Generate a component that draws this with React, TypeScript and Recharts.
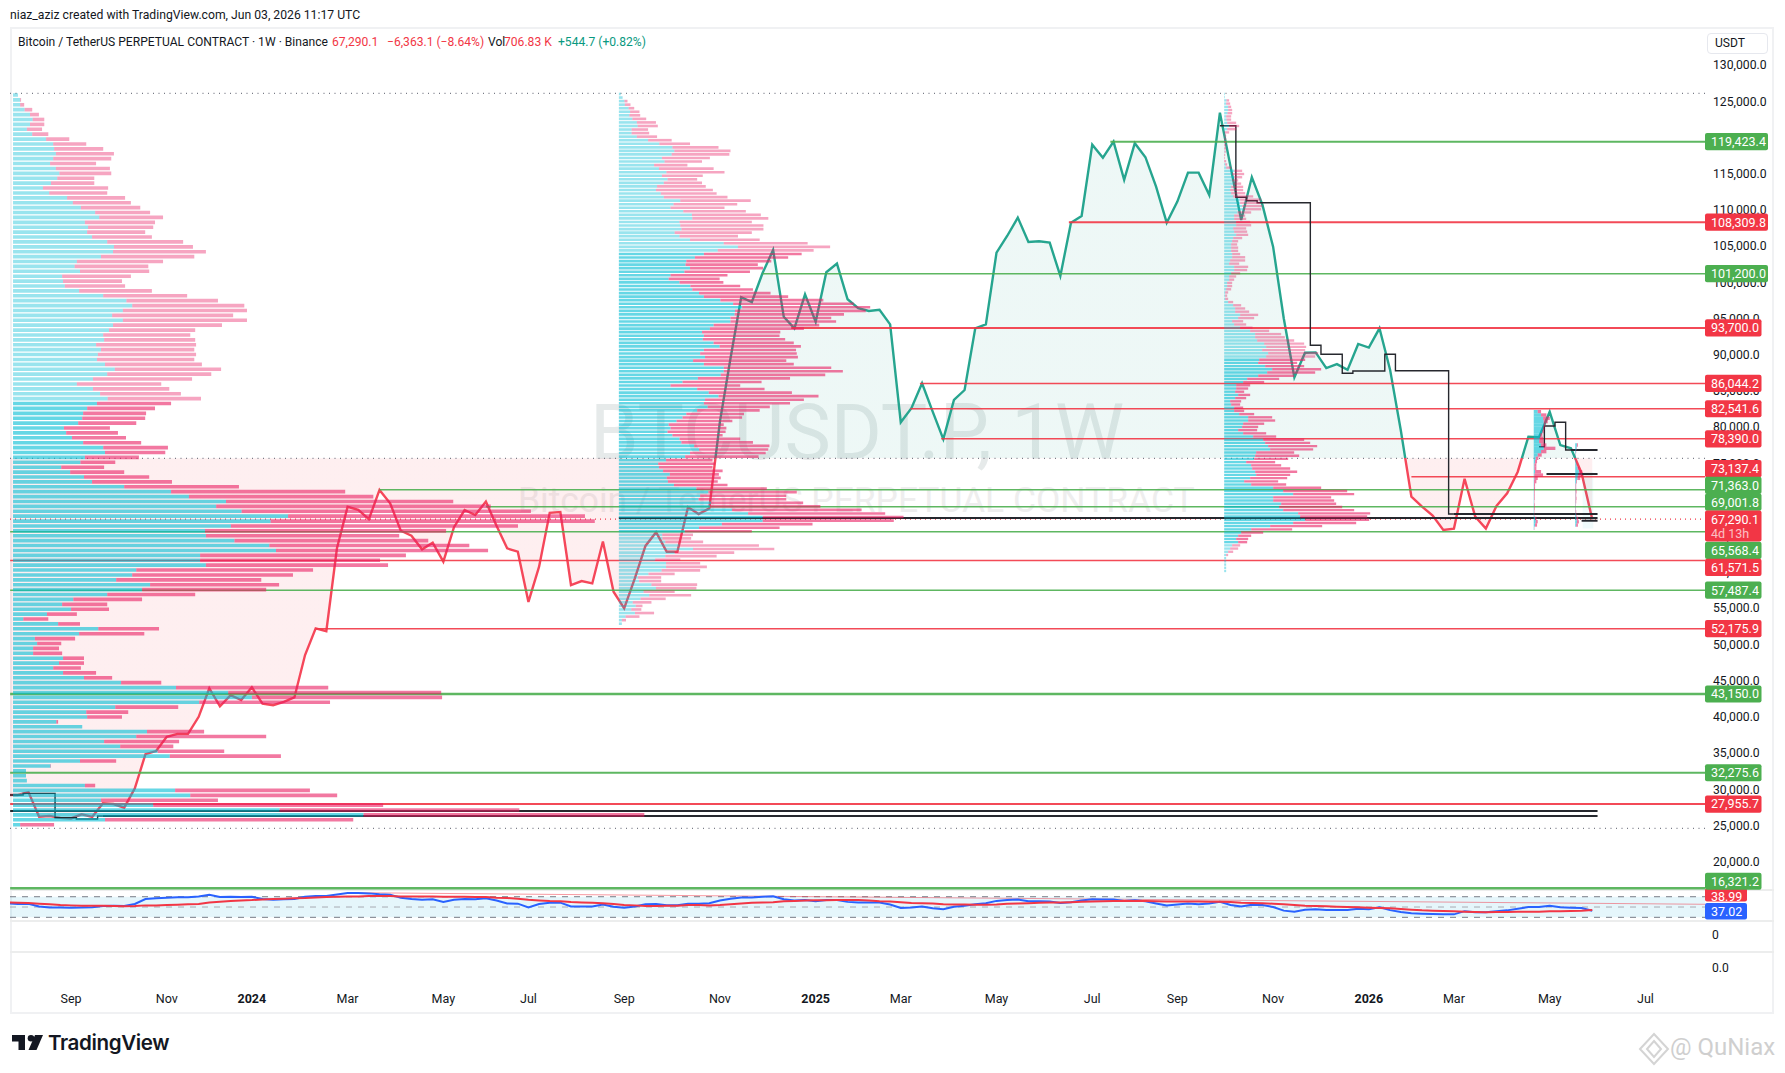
import { Area, ComposedChart, Line, ReferenceArea, ReferenceLine, XAxis, YAxis } from 'recharts';

const FONT = 'Roboto, sans-serif';
const WIDTH = 1785;
const PLOT_LEFT = 10;
const AXIS_WIDTH = 80;
const PLOT_TOP = 27;
const PLOT_BOTTOM = 889;

// scale
const PRICE_TOP = 135263;
const PRICE_BOTTOM = 16221;
const WEEK_MIN = 0.265;
const WEEK_MAX = 159.6;
const PX_PER_WEEK = 10.637;

const closes = [
  29200, 29200, 29600, 26190, 26300, 26050, 25960, 26540, 26190, 28060,
  27960, 27450, 30130, 34850, 35270, 37240, 37650, 37650, 40000, 43950,
  41450, 43000, 42320, 44070, 41830, 41610, 42060, 42670, 48530, 52220,
  51820, 63280, 69000, 68570, 67280, 71330, 69490, 65700, 65020, 63130,
  64050, 61430, 66190, 68560, 67870, 69720, 66390, 63260, 62800, 55870,
  60730, 68180, 68290, 58200, 58750, 58420, 64200, 57280, 54980, 59130,
  63600, 65500, 62800, 62800, 68940, 68000, 68780, 80760, 89550, 97950,
  97280, 101260, 104470, 95250, 93650, 98350, 94560, 101390, 102590, 97660,
  96420, 96040, 96220, 94200, 80680, 82620, 86060, 82140, 78340, 83760,
  85130, 93650, 94200, 104100, 106400, 108940, 105570, 105670, 105480, 100880,
  108240, 109170, 119020, 117220, 119430, 114150, 119210, 117280, 113210, 108240,
  111150, 115150, 115150, 112070, 123430, 115980, 108620, 114520, 110690, 104930,
  95040, 86890, 90280, 90330, 88150, 88700, 87910, 91490, 90980, 93650,
  87910, 79600, 70400, 69030, 67780, 65800, 65990, 72860, 67640, 65990,
  69120, 70870, 73850, 78680, 78600, 82120, 77530, 77080, 73640, 67290.1,
];

const rsi = [
  57, 56, 56.5, 51, 49, 49, 48.5, 49, 49.5, 52,
  52.5, 52, 56, 65.5, 67, 68, 69, 69, 70.5, 74,
  69.5, 70, 69.5, 70, 65.5, 64, 65, 65.5, 70, 71.5,
  71.5, 74.5, 77, 77, 76.5, 75, 74, 68, 65.5, 64,
  65, 60, 64, 65.5, 65, 67, 62.5, 57, 56.5, 49,
  56, 58.5, 58.5, 51, 51, 51, 55, 50.5, 48.5, 51,
  55.5, 56, 53.5, 53.5, 56.2, 56.2, 57.5, 62.5, 66, 68.7,
  68.7, 70, 71, 65, 62.5, 63.7, 61, 63.7, 63.7, 60,
  58.7, 58.7, 58.7, 55, 48, 49, 51, 47.5, 45.6, 50.6,
  52.5, 55.6, 57.5, 61.9, 63.7, 64.4, 61, 61, 60.6, 58,
  59.4, 62.5, 65, 64.4, 64.4, 61.9, 63, 61.2, 56.9, 53,
  55, 56.9, 55.6, 57, 60, 54, 51, 54.5, 53.9, 50,
  43, 41, 44.8, 45.5, 44, 44, 44, 46.8, 45.5, 49.4,
  44, 40.3, 37.8, 37, 36.5, 35.8, 35.8, 42, 40, 39.7,
  42, 43.5, 46.8, 50, 50, 52.6, 49.4, 48.7, 48, 42.9,
];

const rsiAverage = [
  59, 58.4, 57.7, 56.5, 55.2, 53.9, 53.2, 52.6, 52.6, 52.6,
  51.9, 51.3, 51.9, 53.2, 53.2, 53.9, 54.5, 55.2, 55.8, 59,
  60.3, 61.6, 62.9, 63.5, 64.8, 65.5, 66.1, 66.8, 67.4, 68.7,
  69.4, 70, 70.6, 70.6, 71.3, 71.3, 71.3, 70.6, 70.6, 70.6,
  70.6, 70, 70, 70, 69.4, 69.4, 68.1, 67.4, 66.1, 64.2,
  62.9, 61.6, 61, 59.7, 59, 58.4, 57.1, 55.8, 53.9, 53.2,
  51.9, 51.9, 52.6, 52.6, 53.8, 53.8, 53.2, 53.8, 55.6, 56.9,
  58.1, 58.8, 59.4, 61, 61.9, 62.5, 63, 63, 63.7, 63.7,
  63.7, 62.5, 61.3, 60.6, 59.4, 58, 57.5, 56.9, 55.6, 55,
  55, 54.4, 54.4, 55, 56.3, 56.9, 57.5, 58.1, 58.8, 58.8,
  59.4, 60, 60.6, 61.3, 61.9, 61.9, 61.9, 61.9, 61.3, 60.6,
  60.6, 60.6, 60.6, 60, 60, 59.7, 58.4, 57.7, 57.1, 56.5,
  55.2, 53.9, 52.6, 51.9, 51.3, 50.6, 50, 49.4, 48.7, 48,
  47.4, 46.1, 44.8, 43.5, 42.9, 42.2, 41.6, 41, 40.3, 39.7,
  40.3, 40.3, 41, 41, 41, 41.6, 41.6, 42.2, 42.9, 44.2,
];

const priceTicks = [
  130000, 125000, 120000, 115000, 110000, 105000, 100000, 95000, 90000, 85000, 80000, 75000,
  70000, 65000, 60000, 55000, 50000, 45000, 40000, 35000, 30000, 25000, 20000,
];
const timeWeeks = [6, 15, 23, 32, 41, 49, 58, 67, 76, 84, 93, 102, 110, 119, 128, 136, 145, 154];
const timeLabels = ['Sep', 'Nov', '2024', 'Mar', 'May', 'Jul', 'Sep', 'Nov', '2025', 'Mar', 'May', 'Jul', 'Sep', 'Nov', '2026', 'Mar', 'May', 'Jul'];

const levelPrices = [119423.4, 108309.8, 101200, 93700, 86044.2, 82541.6, 78390, 73137.4, 71363, 69001.8, 65568.4, 61571.5, 57487.4, 52175.9, 43150, 32275.6, 27955.7, 16321.2];
const levelIsUp = [true, false, true, false, false, false, false, false, true, true, true, false, true, false, true, true, false, true];
const levelStartWeeks = [103.7, 99.8, 71, 73.7, 85.8, 84.9, 87.8, 132, 35, 45, 0.278, 0.278, 0.278, 29, 0.278, 0.278, 0.278, 0.278];
const levelWeights = [2, 2, 1.5, 2, 1.5, 1.5, 1.5, 1.5, 1.5, 1.5, 1.5, 1.5, 1.5, 1.5, 2.5, 2, 2, 2.5];
const tagNudges: Record<number, number> = { 73137.4: -8.3, 71363: -4.4, 69001.8: -4.6, 65568.4: 18.7, 61571.5: 6.8, 16321.2: -7 };

const HIGH_PRICE = 126107;
const BASE_PRICE = 75700;
const LOW_PRICE = 24600;
const LAST_PRICE = 67290.1;

// developing point of control, stepped
const pocLeftWeeks = [0, 1, 2, 3, 4, 5, 6, 7, 8, 9];
const pocLeftPrices = [29200, 29200, 29430, 29430, 29430, 26070, 26070, 25890, 25890, 26300];
const pocRightWeeks = [114, 115, 116, 117, 118, 119, 120, 121, 122, 123, 124, 125, 126, 127, 128, 129, 130, 131, 132, 133, 134, 135, 136];
const pocRightPrices = [121633, 121633, 111745, 111275, 111000, 111000, 111000, 111000, 111000, 91305, 90065, 90065, 87440, 87755, 87755, 87755, 90065, 87800, 87800, 87800, 87800, 87800, 68008];
const pocRecentWeeks = [144, 145, 146, 147];
const pocRecentPrices = [77300, 80160, 80670, 76850];

// extended point of control lines: price, first week
const pocLinePrices = [26994, 26300, 67456, 68008, 76850, 73530, 67080];
const pocLineStarts = [0.278, 9, 57.5, 136, 147, 144.7, 148];
const POC_LINE_END = 149.5;

// volume profile rows, top to bottom: right end of buy part and right end of whole row
const leftBuyEnds = [
  40, 45, 45, 55, 67, 73, 67, 60, 72, 103, 119, 121, 125, 119, 112, 125, 133, 128, 114, 96, 110, 150, 163, 181, 213, 222, 190, 197, 195, 206, 240, 255, 253, 226, 172, 167, 179, 139, 141, 145, 177, 231, 283, 296, 275, 251, 275, 253, 244, 231, 233, 215, 226, 219, 217, 235, 257, 240, 208, 172, 208, 224, 241, 217, 195, 186, 184,
  175, 143, 148, 161, 186, 231, 235, 190, 180, 137, 157, 188, 206, 278, 383, 423, 506, 484, 541, 645, 606, 517, 459, 461, 525, 603, 618, 448, 448, 461, 305, 296, 260, 336, 318, 240, 164, 139, 159, 105, 52, 130, 220, 177, 78, 83, 74, 74, 141, 132, 119, 141, 188, 271, 394, 511, 564, 446, 258, 193, 195, 126, 184, 329, 305, 233, 269, 353, 380, 179, 113, 58, 58, 60, 190, 392, 426, 226, 343, 626, 814, 235, 45,
];
const leftTotalEnds = [
  40, 47, 54, 72, 87, 99, 99, 94, 108, 155, 193, 231, 255, 249, 215, 246, 249, 211, 211, 242, 240, 280, 293, 314, 336, 365, 347, 343, 325, 340, 410, 432, 461, 435, 365, 332, 334, 293, 273, 280, 340, 419, 488, 547, 553, 522, 553, 497, 437, 426, 437, 439, 435, 439, 435, 452, 495, 473, 430, 361, 379, 405, 450, 383, 347, 327, 325,
  305, 246, 264, 282, 316, 376, 370, 311, 258, 233, 278, 334, 385, 535, 773, 836, 1015, 1099, 1189, 1310, 1332, 1160, 999, 894, 959, 1051, 1093, 909, 851, 869, 701, 656, 585, 625, 596, 437, 318, 240, 244, 172, 108, 179, 356, 323, 168, 137, 132, 139, 188, 188, 181, 215, 251, 361, 735, 988, 990, 739, 399, 287, 273, 130, 184, 457, 596, 401, 388, 502, 629, 260, 114, 58, 58, 60, 213, 694, 755, 488, 858, 1163, 1443, 791, 121,
];
const midBuyEnds = [
  55, 60, 65, 66, 76, 80, 78, 86, 98, 100, 84, 84, 98, 128, 158, 193, 198, 191, 165, 172, 144, 157, 177, 165, 180, 170, 152, 149, 162, 170, 214, 196, 188, 222, 245, 246, 212, 214, 217, 199, 212, 240, 330, 368, 314,
  277, 253, 230, 228, 240, 225, 188, 183, 212, 241, 246, 264, 277, 321, 355, 379, 360, 359, 348, 348, 303, 293, 272, 277, 274, 303, 319, 277, 267, 280, 248, 277, 330, 330, 322, 261, 220, 188, 259, 290, 316, 280, 277, 287, 259, 230, 220, 204, 183, 188, 180, 193, 212, 217, 251, 264, 240, 227,
  176, 155, 157, 168, 186, 178, 181, 197, 257, 289, 267, 263, 296, 293, 352, 395, 434, 434, 325, 264, 226,
  166, 166, 174, 212, 248, 199, 174, 147, 176, 176, 164, 129, 101, 104, 137, 149, 116, 131, 108, 87, 95, 83, 93, 68, 58, 58,
];
const midTotalEnds = [
  55, 60, 73, 81, 91, 105, 107, 123, 149, 154, 128, 131, 152, 191, 240, 316, 348, 345, 293, 272, 233, 303, 332, 274, 259, 272, 282, 301, 311, 340, 402, 366, 332, 389, 429, 449, 405, 436, 436, 405, 368, 426, 554, 614, 570,
  538, 502, 457, 421, 435, 400, 340, 319, 329, 374, 408, 455, 502, 596, 677, 721, 709, 651, 617, 630, 585, 544, 481, 479, 494, 517, 536, 523, 525, 528, 497, 517, 617, 648, 601, 507, 431, 374, 439, 512, 583, 544, 507, 453, 426, 384, 379, 353, 330, 337, 335, 327, 374, 408, 452, 449, 442, 423,
  300, 306, 300, 327, 317, 322, 314, 340, 445, 525, 497, 497, 542, 588, 698, 761, 810, 784, 567, 479, 405,
  248, 243, 275, 424, 465, 358, 311, 214, 267, 285, 267, 199, 163, 163, 259, 257, 199, 243, 175, 137, 113, 110, 144, 105, 69, 58,
];
const rightBuyEnds = [
  17, 17, 22, 21, 27, 27, 25, 21, 22, 24, 30, 24, 16, 16, 15, 15, 15, 15, 16, 15, 15, 15, 18, 21, 45, 39, 45, 39, 42, 36, 33, 36, 42, 63, 63, 69, 72, 55, 45, 45, 51, 51, 42, 45, 51, 42, 39, 36, 36, 36, 39, 39, 33, 30, 45, 45, 36, 30, 30, 24, 24, 21, 18, 18, 18, 27, 42, 48, 48, 63, 57, 39, 45, 63,
  93, 108, 108, 114, 135, 141, 129, 147, 141, 120, 117, 138, 159, 144, 117, 84, 72, 51, 51, 48, 57, 48, 33, 36, 45, 45, 60, 87, 87, 72, 69, 57, 72, 102, 132, 138, 147, 153, 111, 108, 105, 81, 96, 99, 108, 111, 93, 75, 96, 162, 192, 222, 162, 162, 186, 180, 192, 237, 243, 258, 222, 153, 96, 66, 57, 51, 57, 39, 33, 27, 21, 21, 21, 21, 21, 21,
];
const rightTotalEnds = [
  17, 17, 30, 33, 36, 39, 39, 36, 36, 51, 60, 51, 30, 21, 21, 21, 21, 21, 20, 18, 17, 21, 24, 36, 69, 75, 69, 57, 66, 72, 72, 78, 102, 126, 123, 129, 126, 96, 78, 81, 93, 96, 81, 84, 87, 69, 57, 54, 57, 57, 63, 78, 78, 60, 87, 84, 63, 51, 45, 39, 39, 36, 27, 24, 27, 42, 66, 78, 90, 117, 105, 72, 81, 100,
  150, 186, 197, 225, 255, 261, 258, 297, 288, 258, 234, 255, 306, 288, 225, 180, 135, 93, 87, 75, 93, 81, 66, 63, 72, 75, 105, 159, 168, 135, 117, 114, 141, 171, 255, 273, 294, 282, 225, 240, 207, 168, 186, 213, 234, 213, 204, 177, 201, 306, 384, 405, 336, 345, 351, 369, 405, 453, 444, 450, 411, 309, 219, 132, 96, 87, 84, 63, 57, 42, 27, 21, 21, 21, 21, 21,
];
const recentABuyEnds = [82, 92, 98, 100, 100, 98, 96, 90, 88, 86, 92, 100, 92, 82, 76, 74, 72, 72, 74, 72, 72, 71, 71, 71, 71, 71, 71, 71, 71, 71, 71, 71, 74, 76, 74, 71];
const recentATotalEnds = [92, 108, 118, 112, 105, 102, 100, 96, 98, 100, 108, 135, 108, 94, 84, 80, 78, 78, 92, 98, 82, 78, 74, 74, 73, 73, 73, 72, 73, 73, 72, 72, 78, 82, 80, 72];
const recentBBuyEnds = [200, 199, 197, 196, 196, 197, 199, 202, 206, 204, 202, 198, 196, 196, 196, 196, 196, 196, 196, 196, 196, 197, 199, 200, 198];
const recentBTotalEnds = [203, 200, 198, 197, 197, 198, 201, 207, 216, 216, 210, 200, 198, 198, 199, 198, 199, 198, 197, 197, 198, 199, 204, 206, 203];

type Profile = {
  buy: number[];
  total: number[];
  origin: number; // reading where the row starts
  unitsPerPx: number;
  startWeek: number;
  high: number;
  low: number;
  areaHigh: number;
  areaLow: number;
  share: number;
};

const profiles: Profile[] = [
  { buy: leftBuyEnds, total: leftTotalEnds, origin: 29, unitsPerPx: 2.24, startWeek: 0.55, high: 125873, low: 25100, areaHigh: 83750, areaLow: 20000, share: 0.74 },
  { buy: midBuyEnds, total: midTotalEnds, origin: 50, unitsPerPx: 2.67, startWeek: 57.5, high: 126012, low: 52860, areaHigh: 104150, areaLow: 65340, share: 0.74 },
  { buy: rightBuyEnds, total: rightTotalEnds, origin: 15, unitsPerPx: 3, startWeek: 114.4, high: 126012, low: 60140, areaHigh: 89600, areaLow: 63900, share: 0.74 },
  { buy: recentABuyEnds, total: recentATotalEnds, origin: 70, unitsPerPx: 3, startWeek: 143.5, high: 82140, low: 66030, areaHigh: 90000, areaLow: 60000, share: 1 },
  { buy: recentBBuyEnds, total: recentBTotalEnds, origin: 195, unitsPerPx: 3, startWeek: 147.4, high: 77540, low: 66470, areaHigh: 90000, areaLow: 60000, share: 1 },
];

const UP = '#4caf50';
const DOWN = '#f23645';
const TEAL = '#26a58f';
const RED_LINE = '#f5475a';
const DARK = '#26282e';

const chartRows = closes.map((close, week) => {
  const a = pocLeftWeeks.indexOf(week);
  const b = pocRightWeeks.indexOf(week);
  const c = pocRecentWeeks.indexOf(week);
  return {
    week,
    close,
    pocLeft: a >= 0 ? pocLeftPrices[a] : null,
    pocRight: b >= 0 ? pocRightPrices[b] : null,
    pocRecent: c >= 0 ? pocRecentPrices[c] : null,
    rsi: rsi[week],
    rsiAverage: rsiAverage[week],
  };
});

const splitShare = (PRICE_TOP - BASE_PRICE) / (PRICE_TOP - PRICE_BOTTOM);
const splitY = PLOT_TOP + splitShare * (PLOT_BOTTOM - PLOT_TOP);
const chartMain = { top: PLOT_TOP, left: PLOT_LEFT, right: AXIS_WIDTH, bottom: 1073 - PLOT_BOTTOM };

const weekAxis = <XAxis type="number" dataKey="week" domain={[WEEK_MIN, WEEK_MAX]} allowDataOverflow hide />;
const priceAxisHidden = <YAxis type="number" domain={[PRICE_BOTTOM, PRICE_TOP]} allowDataOverflow hide />;

function profileRows(p: Profile, key: number) {
  const step = (p.high - p.low) / (p.buy.length - 1);
  return p.buy.map((buyEnd, i) => {
    const mid = p.high - i * step;
    const half = (step * p.share) / 2;
    const strong = mid <= p.areaHigh && mid >= p.areaLow;
    const buyTo = p.startWeek + (buyEnd - p.origin) / p.unitsPerPx / PX_PER_WEEK;
    const totalTo = p.startWeek + (p.total[i] - p.origin) / p.unitsPerPx / PX_PER_WEEK;
    return [
      <ReferenceArea key={`b${key}-${i}`} x1={p.startWeek} x2={buyTo} y1={mid - half} y2={mid + half} fill="#00bcd4" fillOpacity={strong ? 0.6 : 0.4} stroke="none" />,
      totalTo > buyTo ? (
        <ReferenceArea key={`s${key}-${i}`} x1={buyTo} x2={totalTo} y1={mid - half} y2={mid + half} fill="#e91e63" fillOpacity={strong ? 0.6 : 0.4} stroke="none" />
      ) : null,
    ];
  });
}

function tag(text: string, fill: string, nudge: number, tagWidth: number, tagHeight: number, extra?: string) {
  return (props: any) => {
    const { viewBox } = props;
    const x = viewBox.x + viewBox.width;
    const y = viewBox.y + nudge;
    return (
      <g>
        <rect x={x} y={y - 8.6} width={tagWidth} height={tagHeight} rx={2} fill={fill} />
        <text x={x + 6} y={y + 4.4} fill="#fff" fontSize={12.5} fontFamily={FONT}>{text}</text>
        {extra ? <text x={x + 6} y={y + 18.8} fill="rgba(255,255,255,0.7)" fontSize={12.5} fontFamily={FONT}>{extra}</text> : null}
      </g>
    );
  };
}

function priceLabel(v: number) {
  return v.toLocaleString('en-US', { minimumFractionDigits: 1, maximumFractionDigits: 1 });
}

function PriceTick({ x, y, payload }: any) {
  return (
    <text x={x} y={y + 4.3} fill="#131722" fontSize={12.2} fontFamily={FONT}>
      {priceLabel(payload.value)}
    </text>
  );
}

function TimeTick({ x, y, payload }: any) {
  const label = timeLabels[timeWeeks.indexOf(payload.value)];
  return (
    <text x={x} y={y} textAnchor="middle" fill="#131722" fontSize={12.5} fontFamily={FONT} fontWeight={label.length === 4 ? 700 : 400}>
      {label}
    </text>
  );
}

const abs = (left: number, top: number): any => ({ position: 'absolute', left, top });

function PriceChart() {
  return (
    <ComposedChart width={WIDTH} height={1073} data={chartRows} margin={chartMain} style={abs(0, 0)}>
      <defs>
        <linearGradient id="splitStroke" gradientUnits="userSpaceOnUse" x1="0" y1={0} x2="0" y2={1073}>
          <stop offset={splitY / 1073} stopColor={TEAL} />
          <stop offset={splitY / 1073} stopColor={RED_LINE} />
        </linearGradient>
        <linearGradient id="splitFill" gradientUnits="userSpaceOnUse" x1="0" y1={0} x2="0" y2={1073}>
          <stop offset={splitY / 1073} stopColor="#089981" stopOpacity={0.07} />
          <stop offset={splitY / 1073} stopColor="#f23645" stopOpacity={0.08} />
        </linearGradient>
      </defs>
      {weekAxis}
      {priceAxisHidden}
      <Area
        dataKey="close"
        type="linear"
        baseValue={BASE_PRICE}
        stroke="url(#splitStroke)"
        strokeWidth={2.4}
        fill="url(#splitFill)"
        fillOpacity={1}
        dot={false}
        activeDot={false}
        isAnimationActive={false}
      />
      {[HIGH_PRICE, BASE_PRICE, LOW_PRICE].map((price) => (
        <ReferenceLine key={price} y={price} stroke="#787b86" strokeWidth={1.2} strokeDasharray="1 4.5" />
      ))}
      <ReferenceLine y={LAST_PRICE} stroke={DOWN} strokeWidth={1.2} strokeDasharray="1 4" />
      {levelPrices.map((price, i) => (
        <ReferenceLine
          key={price}
          segment={[{ x: levelStartWeeks[i], y: price }, { x: WEEK_MAX, y: price }]}
          stroke={levelIsUp[i] ? UP : DOWN}
          strokeWidth={levelWeights[i]}
          strokeOpacity={0.9}
        />
      ))}
      {pocLinePrices.map((price, i) => (
        <ReferenceLine
          key={price}
          segment={[{ x: pocLineStarts[i], y: price }, { x: POC_LINE_END, y: price }]}
          stroke={DARK}
          strokeWidth={2}
        />
      ))}
      <ReferenceArea x1={148.1} x2={149.1} y1={66000} y2={73800} fill="#00bcd4" fillOpacity={0.06} stroke="none" />
      <Line dataKey="pocLeft" type="step" stroke={DARK} strokeWidth={1.4} dot={false} activeDot={false} isAnimationActive={false} />
      <Line dataKey="pocRight" type="step" stroke={DARK} strokeWidth={1.4} dot={false} activeDot={false} isAnimationActive={false} />
      <Line dataKey="pocRecent" type="step" stroke={DARK} strokeWidth={1.4} dot={false} activeDot={false} isAnimationActive={false} />
    </ComposedChart>
  );
}

function ProfileChart() {
  return (
    <ComposedChart width={WIDTH} height={1073} data={chartRows} margin={{ ...chartMain, right: 0 }} style={abs(0, 0)}>
      {weekAxis}
      <YAxis
        type="number"
        orientation="right"
        width={AXIS_WIDTH}
        domain={[PRICE_BOTTOM, PRICE_TOP]}
        allowDataOverflow
        ticks={priceTicks}
        interval={0}
        axisLine={false}
        tickLine={false}
        tickMargin={2}
        tick={<PriceTick />}
      />
      {profiles.map((p, i) => profileRows(p, i))}
    </ComposedChart>
  );
}

function TagChart() {
  return (
    <ComposedChart width={WIDTH} height={1073} data={chartRows} margin={chartMain} style={abs(0, 0)}>
      {weekAxis}
      {priceAxisHidden}
      {levelPrices.map((price, i) => (
        <ReferenceLine
          key={price}
          y={price}
          stroke="none"
          label={tag(
            priceLabel(price),
            levelIsUp[i] ? UP : DOWN,
            tagNudges[price] ?? 0,
            price >= 100000 ? 63 : 56.5,
            17.2,
          )}
        />
      ))}
      <ReferenceLine y={LAST_PRICE} stroke="none" label={tag(priceLabel(LAST_PRICE), DOWN, 0, 56.5, 31, '4d 13h')} />
    </ComposedChart>
  );
}

function RsiChart() {
  return (
    <ComposedChart width={WIDTH} height={31} data={chartRows} margin={{ top: 0, bottom: 0, left: PLOT_LEFT, right: AXIS_WIDTH }} style={abs(0, PLOT_BOTTOM)}>
      {weekAxis}
      <YAxis type="number" domain={[24.8, 85]} allowDataOverflow hide />
      <ReferenceArea x1={WEEK_MIN} x2={WEEK_MAX} y1={30} y2={70} fill="#00a5d4" fillOpacity={0.1} stroke="none" />
      <ReferenceLine y={70} stroke="#787b86" strokeDasharray="6 6" />
      <ReferenceLine y={50} stroke="#a9abb3" strokeDasharray="6 6" />
      <ReferenceLine y={30} stroke="#787b86" strokeDasharray="6 6" />
      <ReferenceLine segment={[{ x: 33, y: 77.75 }, { x: WEEK_MAX, y: 55.3 }]} stroke={DOWN} strokeOpacity={0.5} />
      <Line dataKey="rsi" type="linear" stroke="#2962ff" strokeWidth={2} dot={false} activeDot={false} isAnimationActive={false} />
      <Line dataKey="rsiAverage" type="linear" stroke={DOWN} strokeWidth={2} dot={false} activeDot={false} isAnimationActive={false} />
      <ReferenceLine y={38.99} stroke="none" label={tag('38.99', DOWN, -16, 42, 13.3)} />
      <ReferenceLine y={37.02} stroke="none" label={tag('37.02', '#2962ff', -2, 42, 16.4)} />
    </ComposedChart>
  );
}

function TimeAxis() {
  return (
    <ComposedChart width={WIDTH} height={40} data={chartRows} margin={{ top: 0, bottom: 0, left: PLOT_LEFT, right: AXIS_WIDTH }} style={abs(0, 985)}>
      <XAxis
        type="number"
        dataKey="week"
        domain={[WEEK_MIN, WEEK_MAX]}
        allowDataOverflow
        ticks={timeWeeks.filter((w) => w <= WEEK_MAX)}
        interval={0}
        height={30}
        axisLine={false}
        tickLine={false}
        tick={<TimeTick />}
      />
      <YAxis type="number" domain={[0, 1]} hide />
    </ComposedChart>
  );
}

const textStyle: any = { fontFamily: FONT, fontSize: 12.1, color: '#131722', whiteSpace: 'nowrap', position: 'absolute' };

export default function App() {
  return (
    <div style={{ position: 'absolute', left: 0, top: 0, width: WIDTH, height: 1073, background: '#fff', overflow: 'hidden' }}>
      <div style={{ ...textStyle, left: 10, top: 8, fontSize: 12.2 }}>niaz_aziz created with TradingView.com, Jun 03, 2026 11:17 UTC</div>
      <div style={{ position: 'absolute', left: 10, top: 27, width: 1764, height: 987, border: '2px solid #f0f1f3', boxSizing: 'border-box' }} />
      {[889, 920, 951].map((top) => (
        <div key={top} style={{ position: 'absolute', left: 10, top, width: 1764, height: 1.5, background: '#eceded' }} />
      ))}
      <div style={{ position: 'absolute', left: 590, top: 387, fontFamily: FONT, fontSize: 78, color: '#e6eaea', whiteSpace: 'nowrap' }}>BTCUSDT.P, 1W</div>
      <div style={{ position: 'absolute', left: 518, top: 479, fontFamily: FONT, fontSize: 35.4, color: '#eeeeee', whiteSpace: 'nowrap' }}>Bitcoin / TetherUS PERPETUAL CONTRACT</div>
      <PriceChart />
      <ProfileChart />
      <RsiChart />
      <TimeAxis />
      <TagChart />
      <div style={{ ...textStyle, left: 18, top: 35 }}>Bitcoin / TetherUS PERPETUAL CONTRACT · 1W · Binance</div>
      <div style={{ ...textStyle, left: 332, top: 35, color: DOWN }}>67,290.1</div>
      <div style={{ ...textStyle, left: 387, top: 35, color: DOWN }}>−6,363.1 (−8.64%)</div>
      <div style={{ ...textStyle, left: 488, top: 35 }}>Vol</div>
      <div style={{ ...textStyle, left: 504, top: 35, color: DOWN }}>706.83 K</div>
      <div style={{ ...textStyle, left: 558, top: 35, color: '#089981' }}>+544.7 (+0.82%)</div>
      <div style={{ position: 'absolute', left: 1707, top: 33, width: 61, height: 21, border: '1px solid #e6e8ee', borderRadius: 4, boxSizing: 'border-box' }} />
      <div style={{ ...textStyle, left: 1715, top: 36 }}>USDT</div>
      <div style={{ ...textStyle, left: 1712, top: 928 }}>0</div>
      <div style={{ ...textStyle, left: 1712, top: 961 }}>0.0</div>
      <svg style={abs(12, 1035)} width={32} height={16}>
        <path d="M0 0h13v15H6.5V6.5H0z" fill="#131722" />
        <circle cx={19} cy={3.3} r={3.3} fill="#131722" />
        <path d="M23 0h8l-6.5 15h-8z" fill="#131722" />
      </svg>
      <div style={{ position: 'absolute', left: 48, top: 1030, fontFamily: 'Inter, sans-serif', fontWeight: 600, fontSize: 20.6, color: '#131722', letterSpacing: -0.4 }}>TradingView</div>
      <svg style={abs(1638, 1032)} width={32} height={34}>
        <path d="M16 2 L30 17 L16 32 L2 17 Z M16 9 L23 17 L16 25 L9 17 Z" fill="none" stroke="#d4d4d4" strokeWidth={2} />
      </svg>
      <div style={{ position: 'absolute', left: 1670, top: 1033, fontFamily: FONT, fontSize: 24, color: '#cfcfcf', whiteSpace: 'nowrap' }}>@ QuNiax</div>
    </div>
  );
}
